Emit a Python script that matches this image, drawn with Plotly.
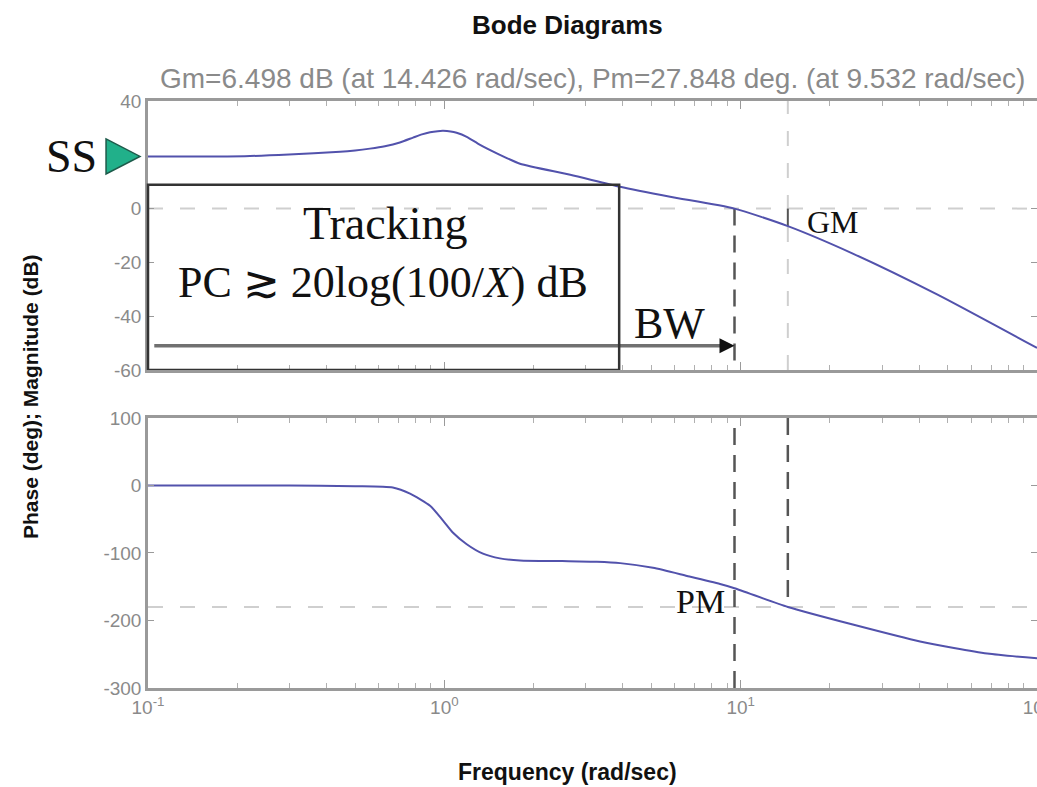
import math
import plotly.graph_objects as go

# ---------------- data ----------------
MAG_FREQ = [0.1, 0.212, 0.299, 0.445, 0.5, 0.561, 0.63, 0.708, 0.784, 0.84, 0.895, 0.95, 0.99,
            1.05, 1.10, 1.19, 1.32, 1.54, 1.80, 2.66, 3.92, 5.78, 9.532, 14.426, 23.9, 46, 100]
MAG_DB = [19.4, 19.5, 20.1, 21.1, 21.6, 22.3, 23.2, 24.6, 26.4, 27.6, 28.4, 28.8, 28.9,
          28.7, 28.2, 26.7, 23.7, 20.0, 16.7, 12.6, 8.1, 4.4, 0.0, -6.5, -16.7, -31.9, -51.8]

PH_FREQ = [0.1, 0.3, 0.5, 0.67, 0.766, 0.895, 0.99, 1.07, 1.19, 1.35, 1.54, 1.80,
           2.5, 3.27, 3.92, 5.06, 6.59, 8.52, 9.532, 14.426, 23.9, 40.3, 67.9, 100]
PH_DEG = [0, 0, -1, -3, -12, -30, -52, -70, -87, -101, -108, -111,
          -112, -113, -115, -122, -134, -146, -152.2, -180, -206, -231, -249, -256]

GM_DB = 6.498
GM_FREQ = 14.426
PM_DEG = 27.848
PM_FREQ = 9.532
SS_DB = 19.4
TRACK_TOP_DB = 8.9
BW_ARROW_DB = -51.0
ARROW_START_FREQ = 0.105

FREQ_RANGE = [0.1, 100]
MAG_RANGE = [-60, 40]
PH_RANGE = [-300, 100]
MAG_TICKS = [40, 0, -20, -40, -60]
MAG_TICK_TEXT = ["40", "0", "-20", "-40", "-60"]
PH_TICKS = [100, 0, -100, -200, -300]
PH_TICK_TEXT = ["100", "0", "-100", "-200", "-300"]
FREQ_TICKS = [0.1, 1, 10, 100]
FREQ_TICK_TEXT = ["10<sup>-1</sup>", "10<sup>0</sup>", "10<sup>1</sup>", "10<sup>2</sup>"]

TITLE = "Bode Diagrams"
SUBTITLE = ("Gm=%.3f dB (at %.3f rad/sec), Pm=%.3f deg. (at %.3f rad/sec)"
            % (GM_DB, GM_FREQ, PM_DEG, PM_FREQ))
XLABEL = "Frequency (rad/sec)"
YLABEL = "Phase (deg); Magnitude (dB)"

# ---------------- styles ----------------
CURVE = "#5252ac"
DARK_DASH = "#555555"
LIGHT_DASH = "#cfcfcf"
AXIS_COL = "#9a9a9a"
TICK_FONT = dict(family="Liberation Sans, Arial", size=19, color="#8a8a8a")
SERIF = "Liberation Serif, Times New Roman, DejaVu Serif"

minor_vals = [k * 10 ** e for e in (-1, 0, 1) for k in range(2, 10)]

fig = go.Figure()

# reference lines (top: magnitude)
fig.add_trace(go.Scatter(x=FREQ_RANGE, y=[0, 0], mode="lines",
                         line=dict(color=LIGHT_DASH, width=2, dash="15px,17px"),
                         xaxis="x", yaxis="y", hoverinfo="skip"))
fig.add_trace(go.Scatter(x=[GM_FREQ, GM_FREQ], y=MAG_RANGE, mode="lines",
                         line=dict(color=LIGHT_DASH, width=2, dash="15px,17px"),
                         xaxis="x", yaxis="y", hoverinfo="skip"))
fig.add_trace(go.Scatter(x=[GM_FREQ, GM_FREQ], y=[0, -GM_DB], mode="lines",
                         line=dict(color=DARK_DASH, width=2),
                         xaxis="x", yaxis="y", hoverinfo="skip"))
fig.add_trace(go.Scatter(x=[PM_FREQ, PM_FREQ], y=[0, MAG_RANGE[0]], mode="lines",
                         line=dict(color=DARK_DASH, width=2.5, dash="17px,10px"),
                         xaxis="x", yaxis="y", hoverinfo="skip"))
# BW arrow shaft
fig.add_trace(go.Scatter(x=[ARROW_START_FREQ, PM_FREQ * 0.93], y=[BW_ARROW_DB, BW_ARROW_DB],
                         mode="lines", line=dict(color="#707070", width=3.5),
                         xaxis="x", yaxis="y", hoverinfo="skip"))
# magnitude curve
fig.add_trace(go.Scatter(x=MAG_FREQ, y=MAG_DB, mode="lines",
                         line=dict(color=CURVE, width=2, shape="spline", smoothing=0.6),
                         xaxis="x", yaxis="y"))

# reference lines (bottom: phase)
fig.add_trace(go.Scatter(x=FREQ_RANGE, y=[-180, -180], mode="lines",
                         line=dict(color=LIGHT_DASH, width=2, dash="15px,17px"),
                         xaxis="x2", yaxis="y2", hoverinfo="skip"))
fig.add_trace(go.Scatter(x=[PM_FREQ, PM_FREQ], y=PH_RANGE, mode="lines",
                         line=dict(color=DARK_DASH, width=2.5, dash="17px,10px"),
                         xaxis="x2", yaxis="y2", hoverinfo="skip"))
fig.add_trace(go.Scatter(x=[GM_FREQ, GM_FREQ], y=[PH_RANGE[1], -180], mode="lines",
                         line=dict(color=DARK_DASH, width=2.5, dash="17px,10px"),
                         xaxis="x2", yaxis="y2", hoverinfo="skip"))
fig.add_trace(go.Scatter(x=PH_FREQ, y=PH_DEG, mode="lines",
                         line=dict(color=CURVE, width=2, shape="spline", smoothing=0.6),
                         xaxis="x2", yaxis="y2"))

axis_common = dict(showline=True, linecolor=AXIS_COL, linewidth=2.5, mirror="ticks",
                   ticks="inside", ticklen=6, tickcolor=AXIS_COL, showgrid=False,
                   zeroline=False, tickfont=TICK_FONT, automargin=False)
xaxis_common = dict(axis_common, type="log", range=[math.log10(FREQ_RANGE[0]), math.log10(FREQ_RANGE[1])],
                    tickvals=FREQ_TICKS, ticktext=FREQ_TICK_TEXT, ticklen=8,
                    ticklabeloverflow="allow",
                    minor=dict(tickvals=minor_vals, ticks="inside", ticklen=5, tickcolor="#b0b0b0"))

fig.update_layout(
    width=1037, height=787,
    margin=dict(l=148, r=0, t=101, b=99, autoexpand=False),
    paper_bgcolor="white", plot_bgcolor="white",
    showlegend=False,
    xaxis=dict(xaxis_common, anchor="y", showticklabels=False),
    yaxis=dict(axis_common, domain=[0.5417, 1.0], range=[MAG_RANGE[0], MAG_RANGE[1]],
               tickvals=MAG_TICKS, ticktext=MAG_TICK_TEXT, anchor="x"),
    xaxis2=dict(xaxis_common, anchor="y2", matches="x"),
    yaxis2=dict(axis_common, domain=[0.0, 0.46], range=[PH_RANGE[0], PH_RANGE[1]],
                tickvals=PH_TICKS, ticktext=PH_TICK_TEXT, anchor="x2"),
)

shapes = [
    # Tracking box
    dict(type="rect", xref="x domain", yref="y", x0=0.0, x1=0.53, y0=MAG_RANGE[0], y1=TRACK_TOP_DB,
         line=dict(color="#333333", width=2.5), fillcolor="rgba(0,0,0,0)", layer="above"),
    # SS triangle marker
    dict(type="path", xref="paper", yref="y",
         path="M -0.0472,%.2f L -0.0090,%.2f L -0.0472,%.2f Z" % (SS_DB + 6.5, SS_DB, SS_DB - 6.5),
         fillcolor="#21b08a", line=dict(color="#1d5a4a", width=1.5), layer="above"),
]
fig.update_layout(shapes=shapes)

annotations = [
    dict(text="<b>" + TITLE + "</b>", xref="paper", yref="paper", x=0.4724, y=1.1295, showarrow=False,
         font=dict(family="Liberation Sans, Arial", size=26, color="#111111"), xanchor="center", yanchor="middle"),
    dict(text=SUBTITLE, xref="paper", yref="paper", x=0.4995, y=1.039, showarrow=False,
         font=dict(family="Liberation Sans, Arial", size=28, color="#8a8a8a"), xanchor="center", yanchor="middle"),
    dict(text="<b>" + XLABEL + "</b>", xref="paper", yref="paper", x=0.4724, y=-0.143, showarrow=False,
         font=dict(family="Liberation Sans, Arial", size=23, color="#111111"), xanchor="center", yanchor="middle"),
    dict(text="<b>" + YLABEL + "</b>", xref="paper", yref="paper", x=-0.1327, y=0.4957, showarrow=False,
         textangle=-90, font=dict(family="Liberation Sans, Arial", size=21, color="#111111"),
         xanchor="center", yanchor="middle"),
    dict(text="Tracking", xref="x domain", yref="y", x=0.2666, y=-5.6, showarrow=False,
         font=dict(family=SERIF, size=46, color="#111111"), xanchor="center", yanchor="middle"),
    dict(text="PC \u2273 20log(100/<i>X</i>) dB", xref="x domain", yref="y", x=0.2643, y=-27.5,
         showarrow=False, font=dict(family=SERIF, size=44, color="#111111"),
         xanchor="center", yanchor="middle"),
    dict(text="BW", xref="x domain", yref="y", x=0.587, y=-42.6, showarrow=False,
         font=dict(family=SERIF, size=44, color="#111111"), xanchor="center", yanchor="middle"),
    dict(text="GM", xref="x domain", yref="y", x=0.771, y=-4.8, showarrow=False,
         font=dict(family=SERIF, size=32, color="#111111"), xanchor="center", yanchor="middle"),
    dict(text="PM", xref="x2 domain", yref="y2", x=0.621, y=-171.6, showarrow=False,
         font=dict(family=SERIF, size=34, color="#111111"), xanchor="center", yanchor="middle"),
    dict(text="SS", xref="paper", yref="y", x=-0.0866, y=SS_DB, showarrow=False,
         font=dict(family=SERIF, size=46, color="#111111"), xanchor="center", yanchor="middle"),
    # BW arrow head
    dict(text="", xref="x", yref="y", x=math.log10(PM_FREQ), y=BW_ARROW_DB,
         ax=-16, ay=0, showarrow=True, arrowhead=2, arrowsize=1.2, arrowwidth=2.5,
         arrowcolor="#111111", standoff=0),
]
fig.update_layout(annotations=annotations)

# remove the default page margin so the 1037x787 figure fills the window exactly
fig.write_html("out.html", config={"displayModeBar": False},
               post_script="document.body.style.margin='0';document.body.style.overflow='hidden';")
